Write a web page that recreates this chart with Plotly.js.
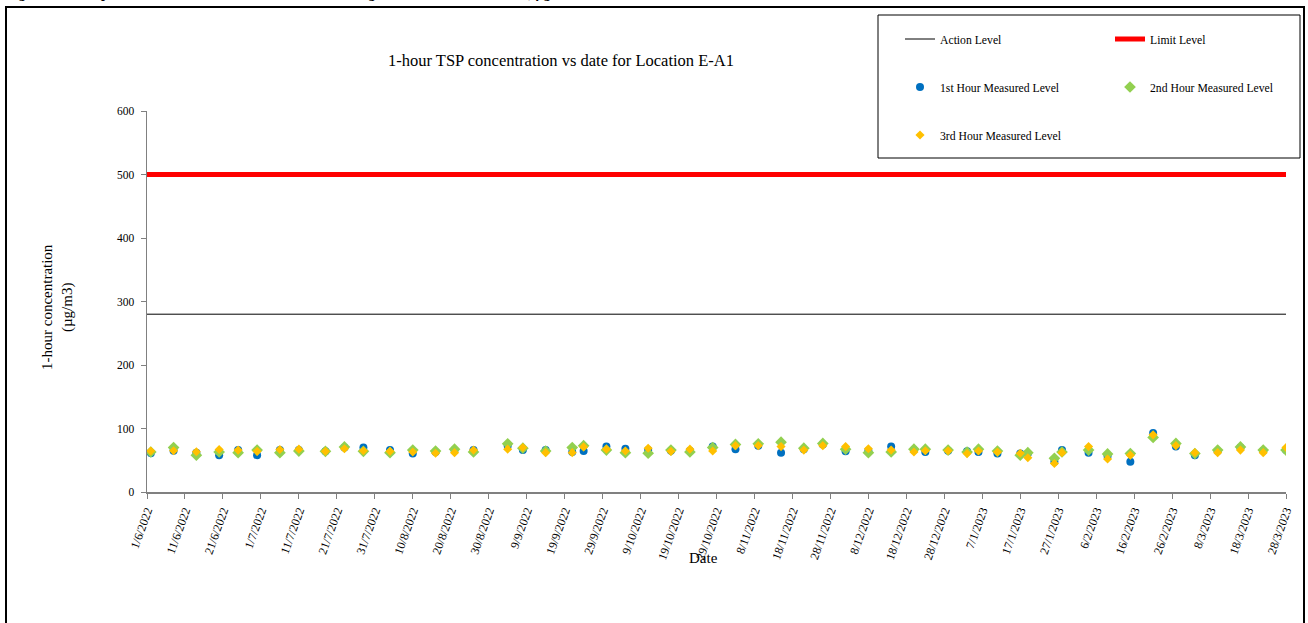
<!DOCTYPE html>
<html>
<head>
<meta charset="utf-8">
<script src="https://cdn.plot.ly/plotly-3.0.1.min.js"></script>
<style>html,body{margin:0;padding:0;background:#fff;overflow:hidden}#chart{width:1308px;height:623px}</style>
</head>
<body>
<div id="chart"></div>
<script>
const dates = ['2022-06-02','2022-06-08','2022-06-14','2022-06-20','2022-06-25','2022-06-30','2022-07-06','2022-07-11','2022-07-18','2022-07-23','2022-07-28','2022-08-04','2022-08-10','2022-08-16','2022-08-21','2022-08-26','2022-09-04','2022-09-08','2022-09-14','2022-09-21','2022-09-24','2022-09-30','2022-10-05','2022-10-11','2022-10-17','2022-10-22','2022-10-28','2022-11-03','2022-11-09','2022-11-15','2022-11-21','2022-11-26','2022-12-02','2022-12-08','2022-12-14','2022-12-20','2022-12-23','2022-12-29','2023-01-03','2023-01-06','2023-01-11','2023-01-17','2023-01-19','2023-01-26','2023-01-28','2023-02-04','2023-02-09','2023-02-15','2023-02-21','2023-02-27','2023-03-04','2023-03-10','2023-03-16','2023-03-22','2023-03-28'];
const hour1 = [61,65,62,58,66,58,66,66,64,70,70,66,60.5,63,66,66,73,66,66,63,64.5,71.5,68,66,65,65,71.5,67.5,73,62,67.5,75,64,65,71.5,66,63,65,64,63,60.5,60.5,60.5,47.7,66,62,56.7,47.7,93,71.5,58,64.5,70,65,66];
const hour2 = [63,70,58,63,62,66,62,64.5,64,71,64,62,66,64.5,67.5,63,76,69,64.5,70,73,66,62,61,66,63,70,75,76,78.5,69,76.5,67.5,62,63,67.5,67.5,66,63,67.5,64.5,58,62,53,63,66,60,60.5,86,76.5,60.5,66,71,66,66];
const hour3 = [64.5,65,63.5,67,66,64,67,67.5,64,68,65,64,63,61,62,66,67.5,70,62,62,71,67.5,64.5,69,64,67.5,64.5,73,73,71.5,66,73,71.5,68,66,63,65,65,60.5,64.5,63,61,54,45,62,71.5,52,58,90,73,62,62,66,62,70];
const levelDates = ['2022-06-01','2023-03-28'];
const actionLevel = [280,280];
const limitLevel = [500,500];
const yTicks = [0,100,200,300,400,500,600];

const L = 147, R = 1286, T = 111, B = 492;
const px = x => (x - L) / (R - L);
const py = y => (B - y) / (B - T);
const serif = 'Liberation Serif, Times New Roman, serif';

const traces = [
  {x: levelDates, y: actionLevel, name: 'Action Level', mode: 'lines', line: {color: '#000000', width: 1}, legend: 'legend'},
  {x: levelDates, y: limitLevel, name: 'Limit Level', mode: 'lines', line: {color: '#ff0000', width: 5}, legend: 'legend4'},
  {x: dates, y: hour1, name: '1st Hour Measured Level', mode: 'markers', marker: {color: '#0070C0', symbol: 'circle', size: 8}, legend: 'legend2'},
  {x: dates, y: hour2, name: '2nd Hour Measured Level', mode: 'markers', marker: {color: '#92D050', symbol: 'diamond', size: 9}, legend: 'legend5'},
  {x: dates, y: hour3, name: '3rd Hour Measured Level', mode: 'markers', marker: {color: '#FFC000', symbol: 'diamond', size: 7}, legend: 'legend3'}
];

const legFont = {family: serif, size: 11.7, color: '#000'};
const legBase = {orientation: 'h', xanchor: 'left', yanchor: 'middle', font: legFont, bgcolor: 'rgba(0,0,0,0)', borderwidth: 0};

const layout = {
  width: 1308, height: 623,
  margin: {l: L, r: 1308 - R, t: T, b: 623 - B, pad: 0, autoexpand: false},
  paper_bgcolor: '#fff', plot_bgcolor: '#fff',
  font: {family: serif, color: '#000'},
  title: {text: '1-hour TSP concentration vs date for Location E-A1', font: {family: serif, size: 16.5, color: '#000'}, xref: 'paper', x: px(561), xanchor: 'center', yref: 'container', y: 1 - 60/623, yanchor: 'middle'},
  xaxis: {type: 'date', range: ['2022-06-01', '2023-03-28'], tick0: '2022-06-01', dtick: 864000000, tickformat: '%-d/%-m/%Y', tickangle: -70,
    showline: true, linecolor: '#808080', linewidth: 2, ticks: 'outside', ticklen: 5, tickcolor: '#808080', showgrid: false, zeroline: false,
    tickfont: {family: serif, size: 12, color: '#000'}, fixedrange: true},
  yaxis: {range: [0, 600], tickvals: yTicks, showline: true, linecolor: '#808080', linewidth: 1.5, ticks: 'outside', ticklen: 5, tickcolor: '#808080',
    showgrid: false, zeroline: false, ticklabelstandoff: 4, tickfont: {family: serif, size: 11.5, color: '#000'}, fixedrange: true},
  legend: Object.assign({}, legBase, {x: px(900), y: py(39)}),
  legend4: Object.assign({}, legBase, {x: px(1110), y: py(39)}),
  legend2: Object.assign({}, legBase, {x: px(900), y: py(87)}),
  legend5: Object.assign({}, legBase, {x: px(1110), y: py(87)}),
  legend3: Object.assign({}, legBase, {x: px(900), y: py(135)}),
  annotations: [
    {text: '1-hour concentration<br>(µg/m3)', xref: 'paper', yref: 'paper', x: px(57), y: py(307), xanchor: 'center', yanchor: 'middle', textangle: -90, showarrow: false, font: {family: serif, size: 15, color: '#000'}},
    {text: 'Date', xref: 'paper', yref: 'paper', x: px(703), y: py(558), xanchor: 'center', yanchor: 'middle', showarrow: false, font: {family: serif, size: 15, color: '#000'}},
    {text: '<b>Figure 2.1   Graphical Presentation of 1-hour TSP Monitoring Results at Location E-A1, µg/m3</b>', xref: 'paper', yref: 'paper', x: px(4), y: py(3), xanchor: 'left', yanchor: 'bottom', showarrow: false, font: {family: serif, size: 14, color: '#000'}}
  ],
  shapes: [
    {type: 'rect', xref: 'paper', yref: 'paper', x0: px(6), x1: px(1304), y0: py(640), y1: py(7), line: {color: '#000', width: 2}},
    {type: 'rect', xref: 'paper', yref: 'paper', x0: px(878), x1: px(1300), y0: py(158), y1: py(15), line: {color: '#000', width: 1}}
  ],
  showlegend: true
};

Plotly.newPlot('chart', traces, layout, {displayModeBar: false, staticPlot: true});
</script>
</body>
</html>
